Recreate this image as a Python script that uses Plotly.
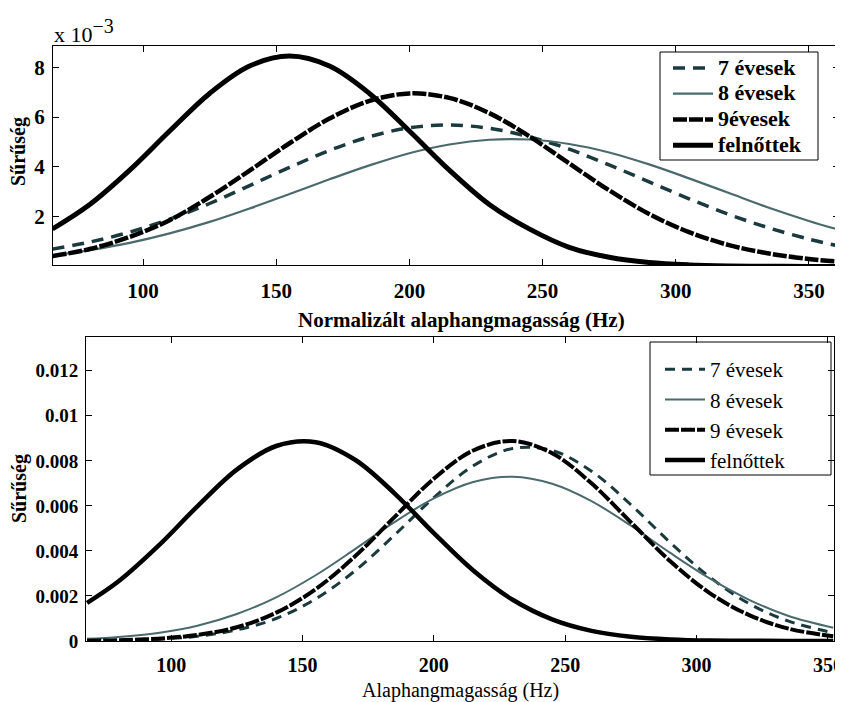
import plotly.graph_objects as go

# ---------------- data ----------------
# Top panel: normalised F0, density in units of 1e-3
x_top = [66, 80, 95, 110, 125, 140, 155, 170, 185, 200, 215, 230, 245, 260, 275, 290, 305, 320, 335, 350, 361]
top_7 = [0.70, 0.98, 1.38, 1.90, 2.53, 3.25, 3.98, 4.66, 5.21, 5.57, 5.68, 5.55, 5.21, 4.71, 4.08, 3.40, 2.72, 2.09, 1.55, 1.10, 0.83]
top_8 = [0.45, 0.66, 0.95, 1.33, 1.79, 2.33, 2.91, 3.50, 4.06, 4.55, 4.90, 5.09, 5.10, 4.92, 4.58, 4.10, 3.54, 2.95, 2.36, 1.83, 1.48]
top_9 = [0.42, 0.70, 1.19, 1.86, 2.79, 3.85, 4.95, 5.94, 6.65, 6.95, 6.77, 6.16, 5.23, 4.14, 3.06, 2.11, 1.38, 0.86, 0.52, 0.30, 0.20]
top_ad = [1.51, 2.49, 3.87, 5.44, 6.95, 8.05, 8.45, 8.05, 6.95, 5.44, 3.87, 2.49, 1.51, 0.77, 0.37, 0.16, 0.064, 0.023, 0.008, 0.002, 0.001]

# Bottom panel: F0, density
x_bot = [68, 80, 95, 110, 125, 140, 155, 170, 185, 200, 215, 230, 245, 260, 275, 290, 305, 320, 335, 352]
bot_7 = [0.000012, 0.00003, 0.000083, 0.00021, 0.00049, 0.0010, 0.00187, 0.00312, 0.0047, 0.00637, 0.00778, 0.00855, 0.00846, 0.00754, 0.00605, 0.00437, 0.00284, 0.00166, 0.00088, 0.00037]
bot_8 = [0.000096, 0.00018, 0.00036, 0.00068, 0.0012, 0.00194, 0.00292, 0.00408, 0.00528, 0.00633, 0.00706, 0.00729, 0.00698, 0.00621, 0.00512, 0.00391, 0.00278, 0.00183, 0.00111, 0.00059]
bot_9 = [0.000015, 0.000037, 0.000105, 0.00027, 0.00061, 0.00126, 0.0023, 0.00376, 0.0055, 0.00721, 0.00846, 0.00888, 0.00834, 0.0070, 0.00527, 0.00354, 0.00213, 0.00115, 0.00055, 0.00021]
bot_ad = [0.00169, 0.00265, 0.00421, 0.00598, 0.00761, 0.00866, 0.00883, 0.00805, 0.00656, 0.00479, 0.00313, 0.00183, 0.00096, 0.00045, 0.00019, 0.00007, 0.00002, 0.00001, 0.0, 0.0]

top_names = ["7 évesek", "8 évesek", "9évesek", "felnőttek"]
bot_names = ["7 évesek", "8 évesek", "9 évesek", "felnőttek"]
x_ticks = [100, 150, 200, 250, 300, 350]
top_yticks = [2, 4, 6, 8]
bot_yticks = [0, 0.002, 0.004, 0.006, 0.008, 0.01, 0.012]
bot_yticktext = ["0", "0.002", "0.004", "0.006", "0.008", "0.01", "0.012"]

# ---------------- styling ----------------
OFF = 8                      # page body margin in the browser
FW, FH = 843 - OFF, 702 - OFF
FONT = "Liberation Serif, Times New Roman, serif"
C7 = "#1b3a3d"
C8 = "#4b6a6c"

top_styles = [
    dict(color=C7, width=3.5, dash="12px,8px"),
    dict(color=C8, width=2.2),
    dict(color="black", width=4.5, dash="14px,2px"),
    dict(color="black", width=5),
]
bot_styles = [
    dict(color=C7, width=3, dash="10px,7px"),
    dict(color=C8, width=2),
    dict(color="black", width=4, dash="14px,2px"),
    dict(color="black", width=4.5),
]


def px_x(p):
    return (p - OFF) / FW


def px_y(p):
    return 1 - (p - OFF) / FH


fig = go.Figure()
for i, (name, ys) in enumerate(zip(top_names, [top_7, top_8, top_9, top_ad])):
    fig.add_trace(go.Scatter(x=x_top, y=ys, mode="lines",
                             name="<b><span style='font-size:22px'>%s</span></b>" % name,
                             line=dict(shape="spline", **top_styles[i]),
                             xaxis="x", yaxis="y", legend="legend",
                             legendgroup="t%d" % i))
for i, (name, ys) in enumerate(zip(bot_names, [bot_7, bot_8, bot_9, bot_ad])):
    fig.add_trace(go.Scatter(x=x_bot, y=ys, mode="lines", name=name,
                             line=dict(shape="spline", **bot_styles[i]),
                             xaxis="x2", yaxis="y2", legend="legend2",
                             legendgroup="b%d" % i))

axis_common = dict(showline=True, linecolor="black", linewidth=1, mirror="ticks",
                   ticks="inside", ticklen=6, tickcolor="black", tickwidth=1,
                   showgrid=False, zeroline=False, automargin=False,
                   ticklabeloverflow="allow")

fig.update_layout(
    template="none",
    width=FW, height=FH, autosize=False,
    margin=dict(l=0, r=0, t=0, b=0, pad=0),
    paper_bgcolor="white", plot_bgcolor="white",
    font=dict(family=FONT, color="black"),
    xaxis=dict(domain=[px_x(53), px_x(839)], range=[66.2, 361.3], anchor="y",
               tickvals=x_ticks, ticklabelstandoff=7,
               tickfont=dict(family=FONT, size=21, weight="bold"), **axis_common),
    yaxis=dict(domain=[px_y(265), px_y(46)], range=[0.06, 8.855], anchor="x",
               tickvals=top_yticks, ticklabelstandoff=3,
               tickfont=dict(family=FONT, size=21, weight="bold"), **axis_common),
    xaxis2=dict(domain=[px_x(86), px_x(834)], range=[67.6, 352.3], anchor="y2",
                tickvals=x_ticks, ticklabelstandoff=6,
                tickfont=dict(family=FONT, size=20, weight="bold"), **axis_common),
    yaxis2=dict(domain=[px_y(641), px_y(337)], range=[0, 0.0135], anchor="x2",
                tickvals=bot_yticks, ticktext=bot_yticktext, ticklabelstandoff=3,
                tickfont=dict(family=FONT, size=19, weight="bold"), **axis_common),
    legend=dict(x=px_x(668), y=px_y(50), xanchor="left", yanchor="top",
                bgcolor="rgba(0,0,0,0)", borderwidth=0,
                font=dict(family=FONT, size=17.5, weight="bold"),
                itemwidth=40, tracegroupgap=0, traceorder="normal"),
    legend2=dict(x=px_x(660), y=px_y(349), xanchor="left", yanchor="top",
                 bgcolor="rgba(0,0,0,0)", borderwidth=0,
                 font=dict(family=FONT, size=21),
                 itemwidth=40, tracegroupgap=2, traceorder="normal"),
    showlegend=True,
)

# legend frames
fig.add_shape(type="rect", xref="paper", yref="paper",
              x0=px_x(660), x1=px_x(818), y0=px_y(160), y1=px_y(52),
              line=dict(color="black", width=1), fillcolor="white", layer="below")
fig.add_shape(type="rect", xref="paper", yref="paper",
              x0=px_x(650), x1=px_x(831), y0=px_y(475), y1=px_y(342),
              line=dict(color="black", width=1), fillcolor="white", layer="below")

annotations = [
    dict(text="x 10<sup><span style='font-size:20px'>−3</span></sup>", x=px_x(52), y=px_y(31),
         xanchor="left", yanchor="middle", font=dict(family=FONT, size=22)),
    dict(text="Normalizált alaphangmagasság (Hz)", x=px_x(461), y=px_y(320),
         xanchor="center", yanchor="middle", font=dict(family=FONT, size=21, weight="bold")),
    dict(text="Sűrűség", x=px_x(19), y=px_y(152), textangle=-90,
         xanchor="center", yanchor="middle", font=dict(family=FONT, size=20, weight="bold")),
    dict(text="Sűrűség", x=px_x(20), y=px_y(489), textangle=-90,
         xanchor="center", yanchor="middle", font=dict(family=FONT, size=20, weight="bold")),
    dict(text="Alaphangmagasság (Hz)", x=px_x(460), y=px_y(690),
         xanchor="center", yanchor="middle", font=dict(family=FONT, size=20)),
]
for a in annotations:
    a.update(xref="paper", yref="paper", showarrow=False)
fig.update_layout(annotations=annotations)

fig.write_html("out.html")
